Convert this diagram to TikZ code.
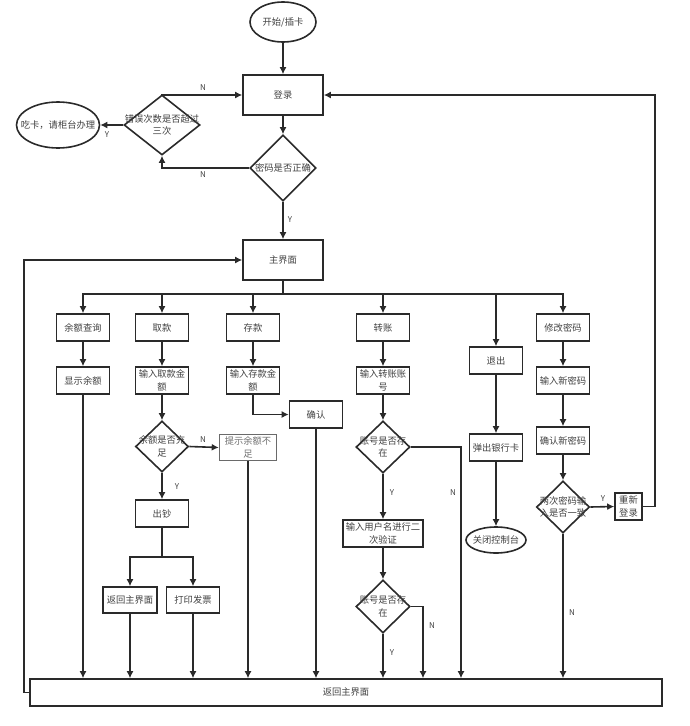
\documentclass[tikz,border=0pt]{standalone}
\usepackage{fontspec}
\newfontfamily\cjk{Noto Sans CJK SC}
\usetikzlibrary{shapes.geometric,arrows.meta}
\definecolor{ln}{HTML}{2A2A2A}
\definecolor{tx}{HTML}{404040}
\begin{document}
\begin{tikzpicture}[x=1pt,y=-1pt,
  every node/.style={font=\cjk\fontsize{9.3}{12.5}\selectfont,text=tx},
  box/.style={draw=ln,line width=1.6pt,rectangle,inner sep=0pt,align=center},
  dia/.style={draw=ln,line width=1.6pt,diamond,inner sep=0pt},
  ell/.style={draw=ln,line width=1.6pt,ellipse,inner sep=0pt},
  lab/.style={align=center,inner sep=0pt},
  yn/.style={font=\cjk\fontsize{8}{9}\selectfont,inner sep=0pt},
  ln/.style={draw=ln,line width=1.6pt},
  arr/.style={ln,-{Latex[length=7pt,width=7pt]}}]
\useasboundingbox (0,0) rectangle (689,726);
% top part
\node[ell,minimum width=66,minimum height=40] (start) at (283,22) {};
\node[lab] (startT) at (start) {开始/插卡};
\node[box,minimum width=80,minimum height=40] (login) at (283,95) {登录};
\node[dia,minimum width=66,minimum height=66] (pwd) at (283,168) {};
\node[lab] (pwdT) at (pwd) {密码是否正确};
\node[dia,minimum width=76,minimum height=60] (err) at (162,125) {};
\node[lab] (errT) at (err) {错误次数是否超过\\三次};
\node[ell,minimum width=83,minimum height=46] (eat) at (58,125) {};
\node[lab] (eatT) at (eat) {吃卡，请柜台办理};
\node[box,minimum width=80,minimum height=40] (main) at (283,260) {主界面};
% row 1
\node[box,minimum width=53,minimum height=27] (q1) at (83,327.5) {余额查询};
\node[box,minimum width=53,minimum height=27] (w1) at (162,327.5) {取款};
\node[box,minimum width=53,minimum height=27] (d1) at (253,327.5) {存款};
\node[box,minimum width=53,minimum height=27] (t1) at (383,327.5) {转账};
\node[box,minimum width=53,minimum height=27] (exit) at (496,360.5) {退出};
\node[box,minimum width=53,minimum height=27] (m1) at (563,327.5) {修改密码};
% row 2
\node[box,minimum width=53,minimum height=27] (q2) at (83,380.5) {显示余额};
\node[box,minimum width=53,minimum height=27] (w2) at (162,380.5) {输入取款金\\额};
\node[box,minimum width=53,minimum height=27] (d2) at (253,380.5) {输入存款金\\额};
\node[box,minimum width=53,minimum height=27] (t2) at (383,380.5) {输入转账账\\号};
\node[box,minimum width=53,minimum height=27] (m2) at (563,380.5) {输入新密码};
% withdraw
\node[box,minimum width=53,minimum height=27] (confirm) at (316,414.5) {确认};
\node[dia,minimum width=53,minimum height=51] (wdia) at (162,446.5) {};
\node[lab] (wdiaT) at (wdia) {余额是否充\\足};
\node[box,minimum width=57,minimum height=26,draw=ln!70,text=tx!75] (tip) at (248,447.5) {提示余额不\\足};
\node[box,minimum width=53,minimum height=27] (cash) at (162,513.5) {出钞};
\node[box,minimum width=54,minimum height=26] (ret) at (130,600) {返回主界面};
\node[box,minimum width=53,minimum height=26] (print) at (193,600) {打印发票};
% transfer
\node[dia,minimum width=54,minimum height=52] (tdia) at (383,447) {};
\node[lab] (tdiaT) at (tdia) {账号是否存\\在};
\node[box,minimum width=80,minimum height=27] (verify) at (383,533.5) {输入用户名进行二\\次验证};
\node[dia,minimum width=54,minimum height=53] (tdia2) at (383,606.5) {};
\node[lab] (tdia2T) at (tdia2) {账号是否存\\在};
% exit
\node[box,minimum width=53,minimum height=27] (eject) at (496,447.5) {弹出银行卡};
\node[ell,minimum width=60,minimum height=26] (close) at (496,540) {};
\node[lab] (closeT) at (close) {关闭控制台};
% password change
\node[box,minimum width=53,minimum height=27] (m3) at (563,440.5) {确认新密码};
\node[dia,minimum width=53,minimum height=52] (mdia) at (563,507) {};
\node[lab] (mdiaT) at (mdia) {两次密码输\\入是否一致};
\node[box,minimum width=27,minimum height=27] (relog) at (628.5,506.5) {重新\\登录};
% bottom
\node[box,minimum width=632,minimum height=27] (back) at (346,692.5) {返回主界面};
% coordinates
\coordinate (bus) at (283,294);
\coordinate (split) at (162,557);
\coordinate (tN) at (461,447);
\coordinate (t2N) at (423,606.5);
\coordinate (rloop) at (655,506.5);
\coordinate (lloop) at (24,692.5);
% connectors top
\draw[arr] (start) -- (login);
\draw[arr] (login) -- (pwd);
\draw[arr] (pwd.south) -- (main.north);
\draw[arr] (pwd.west) -| (err.south);
\draw[arr] (err.north) |- (login.west);
\draw[arr] (err.west) -- (eat.east);
\node[yn] (y1) at (290,220) {Y};
\node[yn] (n1) at (203,175) {N};
\node[yn] (n2) at (203,88) {N};
\node[yn] (y2) at (107,135) {Y};
% bus
\draw[ln] (main.south) -- (bus);
\draw[arr] (bus) -| (q1.north);
\draw[arr] (bus) -| (w1.north);
\draw[arr] (bus) -| (d1.north);
\draw[arr] (bus) -| (t1.north);
\draw[arr] (bus) -| (exit.north);
\draw[arr] (bus) -| (m1.north);
% balance
\draw[arr] (q1) -- (q2);
\draw[arr] (q2.south) -- (q2.south |- back.north);
% withdraw
\draw[arr] (w1) -- (w2);
\draw[arr] (w2) -- (wdia);
\draw[arr] (wdia.east) -- (tip.west);
\node[yn] (n3) at (203,440) {N};
\draw[arr] (tip.south) -- (tip.south |- back.north);
\draw[arr] (wdia.south) -- (cash.north);
\node[yn] (y3) at (177,487) {Y};
\draw[ln] (cash.south) -- (split);
\draw[arr] (split) -| (ret.north);
\draw[arr] (split) -| (print.north);
\draw[arr] (ret.south) -- (ret.south |- back.north);
\draw[arr] (print.south) -- (print.south |- back.north);
% deposit
\draw[arr] (d1) -- (d2);
\draw[arr] (d2.south) |- (confirm.west);
\draw[arr] (confirm.south) -- (confirm.south |- back.north);
% transfer
\draw[arr] (t1) -- (t2);
\draw[arr] (t2) -- (tdia);
\draw[arr] (tdia.east) -- (tN) -- (tN |- back.north);
\node[yn] (n4) at (453,493) {N};
\draw[arr] (tdia.south) -- (verify.north);
\node[yn] (y4) at (392,493) {Y};
\draw[arr] (verify) -- (tdia2);
\draw[arr] (tdia2.east) -- (t2N) -- (t2N |- back.north);
\node[yn] (n5) at (432,626) {N};
\draw[arr] (tdia2.south) -- (tdia2.south |- back.north);
\node[yn] (y5) at (392,653) {Y};
% exit
\draw[arr] (exit) -- (eject);
\draw[arr] (eject) -- (close);
% password change
\draw[arr] (m1) -- (m2);
\draw[arr] (m2) -- (m3);
\draw[arr] (m3) -- (mdia);
\draw[arr] (mdia.east) -- (relog.west);
\node[yn] (y6) at (603,499) {Y};
\draw[arr] (relog.east) -- (rloop) |- (login.east);
\draw[arr] (mdia.south) -- (mdia.south |- back.north);
\node[yn] (n6) at (572,613) {N};
% left loop
\draw[arr] (back.west) -- (lloop) |- (main.west);
\end{tikzpicture}
\end{document}
